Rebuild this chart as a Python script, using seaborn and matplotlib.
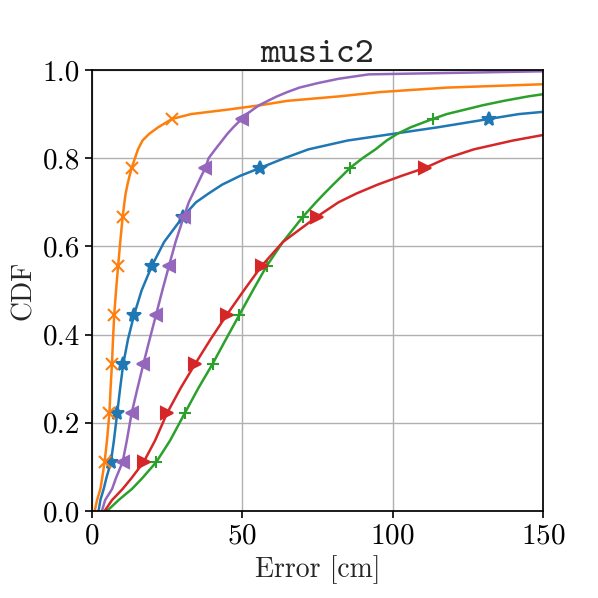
import numpy as np
import pandas as pd
import seaborn as sns
import matplotlib.pyplot as plt

# niveles de CDF comunes (los marcadores van en k/9)
niveles = [0, 0.025, 0.05, 0.075, 1/9, 0.16, 2/9, 0.28, 1/3, 0.39, 4/9, 0.5, 5/9,
           0.61, 2/3, 0.70, 0.72, 0.74, 0.76, 7/9, 0.80, 0.82, 0.84, 0.855, 0.87,
           8/9, 0.90, 0.91, 0.92, 0.93, 0.94, 0.95, 0.96, 0.97, 0.98, 0.99, 1.0]

# error [cm] de cada serie en esos niveles
err_azul = [2.2, 2.8, 3.9, 4.8, 6.3, 7.3, 8.4, 9.4, 10.4, 12.0, 14.0, 16.5, 19.9,
            24, 30.2, 34.6, 38.8, 43.3, 49.3, 55.9, 64, 72, 85, 100, 115, 132,
            142, 158, 175, 195, 215, 240, 265, 290, 320, 360, 400]
err_naranja = [0.9, 1.7, 2.8, 3.4, 4.2, 5.0, 5.8, 6.2, 6.65, 7.0, 7.4, 8.0, 8.7,
               9.4, 10.2, 10.8, 11.2, 11.8, 12.5, 13.2, 14.3, 15.3, 16.8, 19.0,
               22.0, 26.6, 33, 45, 56, 65, 82, 96, 118, 160, 200, 250, 300]
err_verde = [5.0, 8.9, 13.3, 16.8, 21.4, 26, 30.9, 35.5, 40.1, 44.6, 49.0, 53.5,
             58.1, 63.5, 70.1, 74.5, 77.3, 80.2, 83.2, 85.8, 90, 94.3, 98, 101.5,
             106, 113.3, 118, 124, 130, 137, 145, 155, 170, 190, 215, 250, 300]
err_rojo = [4.2, 6.7, 10.2, 13.2, 17.2, 21, 25.0, 29.6, 34.3, 39.5, 44.8, 50.5,
            56.4, 63.5, 74.7, 82, 88, 95, 103, 110.7, 118, 127, 140, 152, 165,
            180, 190, 200, 212, 225, 240, 255, 270, 290, 320, 360, 400]
err_morado = [3.3, 4.4, 6.7, 8.0, 10.2, 11.6, 13.2, 15.2, 17.1, 19.2, 21.3, 23.4,
              25.6, 27.8, 30.5, 32.2, 33.6, 35.0, 36.4, 37.7, 38.8, 41, 43.3, 45,
              47, 49.8, 51.5, 53.5, 55.6, 58.5, 61.5, 65, 69, 75, 82, 92, 175]

series = {
    'serie1': (err_azul, '#1f77b4', '*', 10),
    'serie2': (err_naranja, '#ff7f0e', 'x', 8),
    'serie3': (err_verde, '#2ca02c', '+', 9),
    'serie4': (err_rojo, '#d62728', '>', 8),
    'serie5': (err_morado, '#9467bd', '<', 8),
}

sns.set_style("ticks")
plt.rcParams['font.family'] = ['cmr10', 'DejaVu Serif']
plt.rcParams['axes.formatter.use_mathtext'] = True

# indices de los niveles k/9 para los marcadores
idx_marc = [i for i, v in enumerate(niveles) if any(abs(v - k / 9) < 1e-9 for k in range(1, 9))]

fig = plt.figure(figsize=(5.98, 5.98), dpi=100)
ax = fig.add_axes([0.1538, 0.1455, 0.7542, 0.7375])

for nombre, (err, color, marca, tam) in series.items():
    df = pd.DataFrame({'error': err, 'cdf': niveles})
    sns.lineplot(data=df, x='error', y='cdf', ax=ax, sort=False, estimator=None,
                 color=color, marker=marca, markevery=idx_marc, markersize=tam,
                 markeredgecolor=color, markeredgewidth=1.5, linewidth=1.8,
                 legend=False)

ax.set_xlim(0, 150)
ax.set_ylim(0, 1)
ax.set_xticks([0, 50, 100, 150])
ax.set_yticks(np.arange(0, 1.01, 0.2))
ax.set_yticklabels([f"{v:.1f}" for v in np.arange(0, 1.01, 0.2)])
ax.grid(True, color='#b0b0b0', linewidth=1.0)
for s in ax.spines.values():
    s.set_visible(True)
    s.set_color('black')
    s.set_linewidth(1.25)
ax.tick_params(labelsize=21, length=5, width=1.2, colors='black')
ax.set_xlabel("Error [cm]", fontsize=20)
ax.set_ylabel("CDF", fontsize=20)
ax.set_title("music2", fontsize=26, family='cmtt10', pad=4)

plt.savefig("out.png", dpi=100)
